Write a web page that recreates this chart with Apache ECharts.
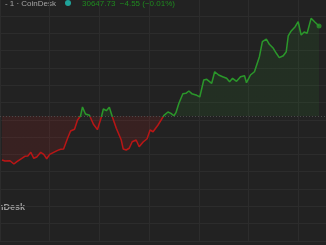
<!DOCTYPE html>
<html>
<head>
<meta charset="utf-8">
<script src="https://cdn.jsdelivr.net/npm/echarts@6/dist/echarts.min.js"></script>
<style>
html,body{margin:0;padding:0;background:#222222;}
#c{width:326px;height:245px;}
</style>
</head>
<body>
<div id="c"></div>
<script>
// Minutes since the session start (x) and index price (y)
const minutes = [2.4,6,8.4,12,16.8,20.4,26.4,30,33.6,37.2,40.8,44.4,49.2,52.8,56.4,60,64.8,69.6,73.2,76.8,81.6,85.2,90,93.6,97.2,99.6,103.2,108,112.8,117.6,122.4,124.8,128.4,132,135.6,140.4,146.4,148.8,152.4,156,159.6,164.4,168,172.8,177.6,181.2,184.8,190.8,198,202.8,206.4,210,212.4,216,220.8,224.4,228,231.6,237.6,241.2,246,249.6,255.6,259.2,264,268.8,273.6,277.2,280.8,285.6,290.4,295.2,297.6,302.4,307.2,309.6,313.2,316.8,321.6,325.2,330,333.6,337.2,342,345.6,348,351.6,356.4,360,363.6,367.2,370.8,375.6,380.4,385.2];
const prices = [30593.5,30592.4,30594.3,30592.7,30588.9,30591.6,30595.5,30597.8,30598.2,30602.4,30595.5,30597.0,30602.4,30600.1,30595.0,30600.1,30602.4,30604.7,30605.9,30606.2,30618.6,30627.1,30629.0,30639.8,30644.4,30654.8,30646.7,30645.2,30634.8,30628.6,30643.2,30652.5,30650.5,30654.5,30643.6,30630.2,30616.6,30606.2,30605.1,30607.1,30614.7,30616.6,30608.9,30614.3,30618.1,30628.2,30626.2,30634.0,30645.2,30649.0,30647.5,30644.7,30648.2,30659.1,30670.2,30670.6,30673.3,30670.2,30668.3,30666.4,30686.0,30686.8,30682.2,30695.6,30691.8,30689.8,30688.0,30684.0,30688.0,30684.5,30689.8,30691.0,30682.9,30691.8,30695.6,30697.6,30713.0,30730.3,30733.4,30727.3,30722.7,30716.9,30711.8,30714.1,30718.7,30736.9,30742.7,30747.6,30753.4,30738.0,30741.5,30740.0,30757.3,30752.7,30748.4];
const previousClose = 30644.4;
const headerLabel = "Bitcoin   - 1 · CoinDesk";
const quoteLabel = "30647.73  −4.55 (−0.01%)";
const watermark = "CoinDesk";

const GREEN = '#2a972a';
const RED = '#b91515';

const series = minutes.map((m, i) => [m, prices[i]]);
const last = series[series.length - 1];

// split point of the vertical gradient (bounding box of the line)
const pMax = Math.max(...prices), pMin = Math.min(...prices);
const split = (pMax - previousClose) / (pMax - pMin);
function splitGradient(top, bottom) {
  return new echarts.graphic.LinearGradient(0, 0, 0, 1, [
    {offset: 0, color: top}, {offset: split, color: top},
    {offset: split, color: bottom}, {offset: 1, color: bottom}
  ]);
}

const chart = echarts.init(document.getElementById('c'), null, {renderer: 'canvas'});
chart.setOption({
  backgroundColor: '#222222',
  animation: false,
  grid: {left: -2, right: 0, top: 0, bottom: 4.1},
  xAxis: {
    type: 'value', min: 0, max: 393.6, interval: 60,
    axisLine: {show: false}, axisTick: {show: false}, axisLabel: {show: false},
    splitLine: {show: true, showMinLine: true, showMaxLine: false, lineStyle: {color: '#2c2c2c', width: 1}}
  },
  yAxis: {
    type: 'value', min: 30500, max: 30778.5, interval: 20,
    axisLine: {show: false}, axisTick: {show: false}, axisLabel: {show: false},
    splitLine: {show: true, showMinLine: true, showMaxLine: false, lineStyle: {color: '#2c2c2c', width: 1}}
  },
  series: [
    {
      type: 'line', data: series, showSymbol: false, smooth: false,
      lineStyle: {width: 1.5, color: splitGradient(GREEN, RED)},
      itemStyle: {color: GREEN},
      areaStyle: {origin: previousClose, opacity: 1, color: splitGradient('rgba(43,154,43,0.11)', 'rgba(189,27,27,0.14)')},
      markLine: {
        silent: true, symbol: 'none', label: {show: false},
        lineStyle: {color: '#4a4a4a', type: [1, 2], width: 1},
        data: [{yAxis: previousClose}]
      }
    },
    {
      type: 'scatter', data: [last], symbolSize: 5,
      itemStyle: {color: GREEN}, silent: true
    }
  ],
  graphic: [
    {type: 'text', x: 56, y: 4, style: {text: headerLabel, fill: '#a5a5a5', font: '8px "Liberation Sans", sans-serif', align: 'right', verticalAlign: 'middle'}},
    {type: 'circle', shape: {cx: 68, cy: 3, r: 3}, style: {fill: '#1fa39a'}},
    {type: 'text', x: 82, y: 4, style: {text: quoteLabel, fill: '#1f8a1f', font: '8px "Liberation Sans", sans-serif', align: 'left', verticalAlign: 'middle'}},
    {type: 'text', x: 25, y: 207.5, style: {text: watermark, fill: '#9e9e9e', font: 'bold 9px "Liberation Sans", sans-serif', align: 'right', verticalAlign: 'middle'}}
  ]
});
</script>
</body>
</html>
